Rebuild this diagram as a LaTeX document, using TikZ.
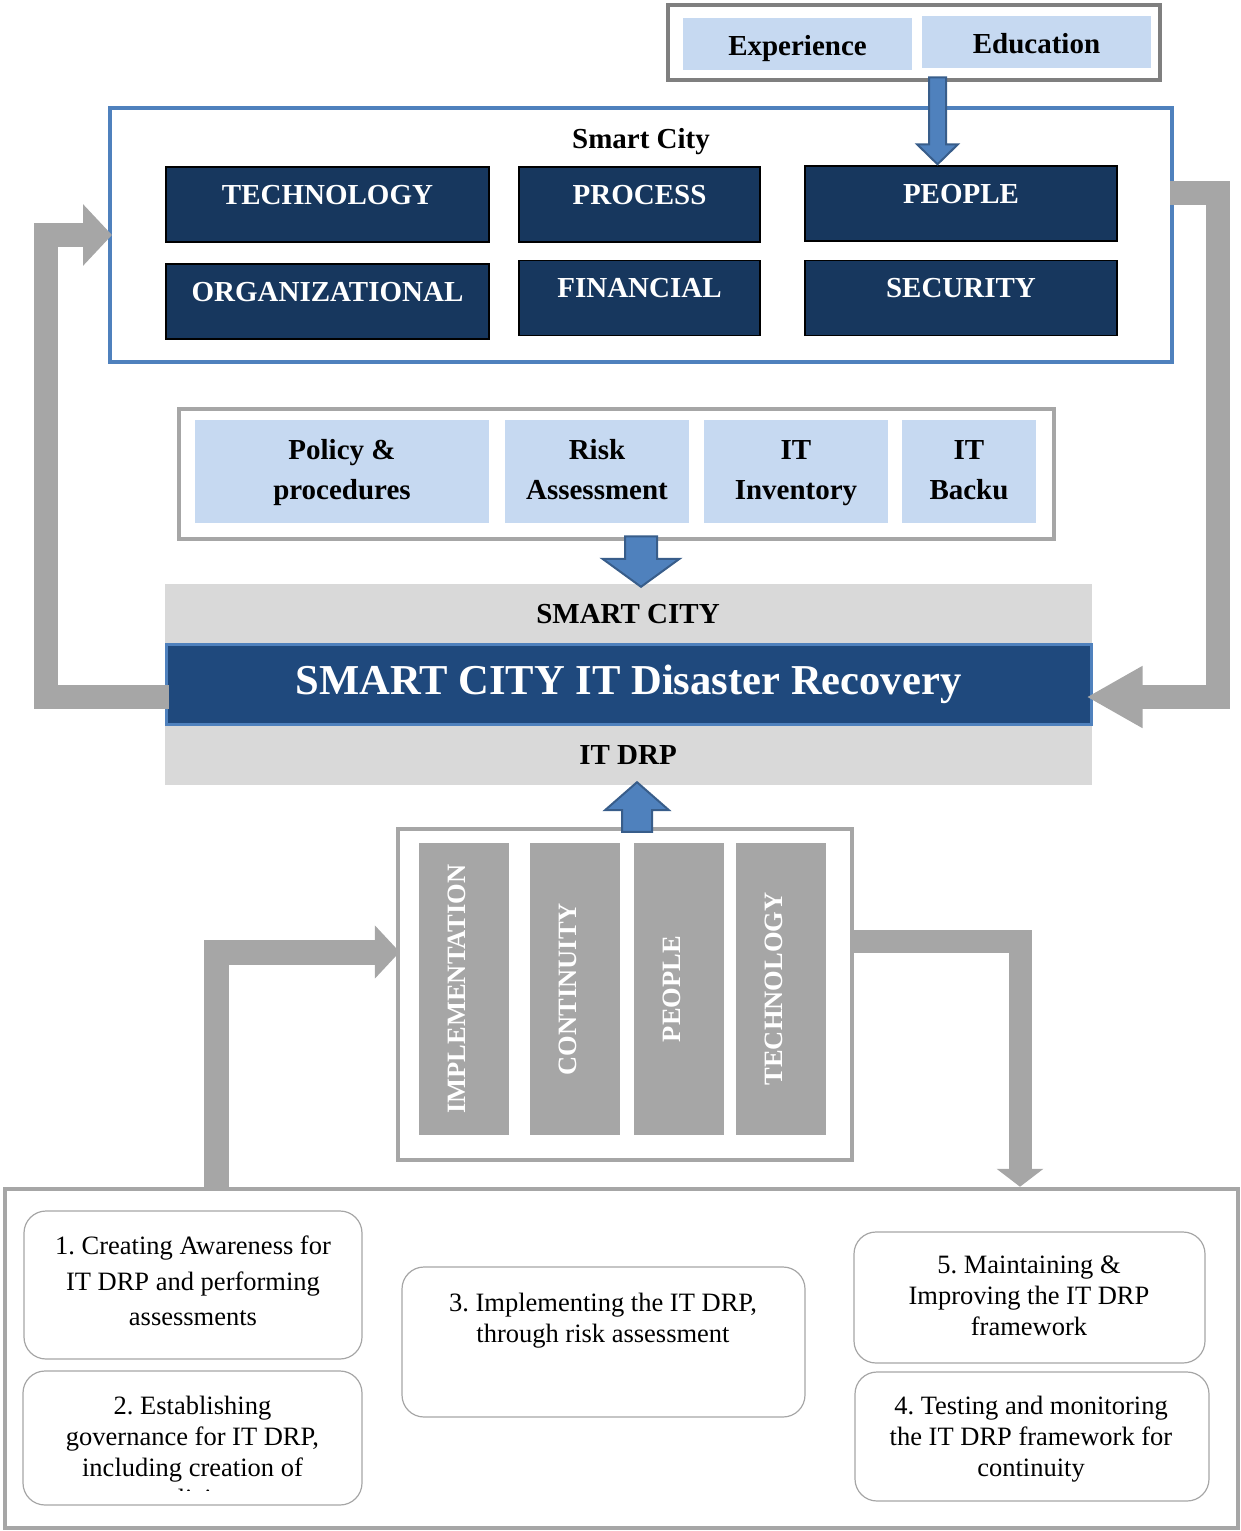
\documentclass[tikz,border=0pt]{standalone}
\usepackage{fontspec}
\setmainfont{Liberation Serif}
\usetikzlibrary{arrows.meta,calc}
\frenchspacing

\definecolor{lightblue}{HTML}{C6D9F1}
\definecolor{navy}{HTML}{17375E}
\definecolor{barblue}{HTML}{1F497D}
\definecolor{midblue}{HTML}{4F81BD}
\definecolor{edgeblue}{HTML}{385D8A}
\definecolor{arrowgray}{HTML}{A6A6A6}
\definecolor{bandgray}{HTML}{D9D9D9}
\definecolor{framegray}{HTML}{7F7F7F}

\begin{document}
\begin{tikzpicture}[x=1pt,y=-1pt,
  bfont/.style={font=\fontsize{29}{40}\selectfont\bfseries},
  rfont/.style={font=\fontsize{26.5}{31}\selectfont},
  lbox/.style={fill=lightblue, inner sep=0pt, bfont, align=center},
  dbox/.style={fill=navy, draw=black, line width=1.5pt, inner sep=0pt, text=white,
               bfont, text height=37pt, text depth=38pt},
  vbar/.style={fill=arrowgray, inner sep=0pt, rotate=90, minimum width=292pt,
               minimum height=90pt, text=white,
               font=\fontsize{26.5}{30}\selectfont\bfseries, text depth=14pt},
  rbox/.style={draw=arrowgray, line width=1.2pt, rounded corners=22pt, inner sep=0pt},
  boxframe/.style={draw=arrowgray, line width=4.5pt, inner sep=0pt},
  grayarrow/.style={draw=arrowgray, line join=miter},
  bluearrow/.style={fill=midblue, draw=edgeblue, line width=2pt, line join=miter},
]
\useasboundingbox (0,0) rectangle (1241,1531);

% ---------- competences ----------
\node[boxframe, draw=framegray, minimum width=492pt, minimum height=75pt] (topframe) at (914,42.5) {};
\node[lbox, minimum width=229pt, minimum height=52pt, text height=26pt, text depth=4pt] (exp) at (797.5,44) {Experience};
\node[lbox, minimum width=229pt, minimum height=52pt, text height=26pt, text depth=4pt] (edu) at (1036.5,42) {Education};

% ---------- smart city dimensions ----------
\node[draw=midblue, line width=4pt, minimum width=1062pt, minimum height=254pt, inner sep=0pt] (sc) at (641,235) {};
\node[bfont, anchor=base] (sctitle) at (641,148) {Smart City};

\node[dbox, minimum width=323pt] (tech)    at (327.5,204.5) {TECHNOLOGY};
\node[dbox, minimum width=241pt] (process) at (639.5,204.5) {PROCESS};
\node[dbox, minimum width=312pt] (people)  at (961,203.5)   {PEOPLE};
\node[dbox, minimum width=323pt] (org)     at (327.5,301.5) {ORGANIZATIONAL};
\node[dbox, minimum width=241pt] (fin)     at (639.5,298)   {FINANCIAL};
\node[dbox, minimum width=312pt] (sec)     at (961,298)     {SECURITY};

% ---------- plan inputs ----------
\node[boxframe, minimum width=875pt, minimum height=130pt] (midframe) at (616.5,474) {};
\node[lbox, minimum width=294pt, minimum height=103pt] (policy) at (342,471.5) {\strut Policy \&\\procedures\strut};
\node[lbox, minimum width=184pt, minimum height=103pt] (risk)   at (597,471.5) {\strut Risk\\Assessment\strut};
\node[lbox, minimum width=184pt, minimum height=103pt] (inv)    at (796,471.5) {\strut IT\\Inventory\strut};
\node[lbox, minimum width=134pt, minimum height=103pt] (backup) at (969,471.5) {\strut IT\\Backu\strut};

% ---------- central band ----------
\node[fill=bandgray, minimum width=927pt, minimum height=201pt, inner sep=0pt] (band) at (628.5,684.5) {};
\node[bfont, anchor=base] (bandtop) at (628,623) {SMART CITY};
\node[bfont, anchor=base] (bandbot) at (628,764) {IT DRP};
\node[fill=barblue, draw=midblue, line width=3pt, minimum width=925pt, minimum height=80pt,
      inner sep=0pt, text=white, font=\fontsize{42.6}{50}\selectfont\bfseries] (bar) at (628.5,684)
      {SMART CITY IT Disaster Recovery};

% ---------- pillars ----------
\node[boxframe, minimum width=454pt, minimum height=331pt] (central) at (625,994.5) {};
\node[vbar] (pimpl) at (464,989) {IMPLEMENTATION};
\node[vbar] (pcont) at (575,989) {CONTINUITY};
\node[vbar] (ppeop) at (679,989) {PEOPLE};
\node[vbar] (ptech) at (781,989) {TECHNOLOGY};

% ---------- process steps ----------
\node[boxframe, minimum width=1233pt, minimum height=339pt] (outer) at (621.5,1358.5) {};

\node[rbox, minimum width=338pt, minimum height=148pt] (b1) at (193,1285) {};
\node[font=\fontsize{26.5}{35.5}\selectfont, align=center] (t1) at (193,1281)
  {1. Creating Awareness for\\IT DRP and performing\\assessments};

\node[rbox, minimum width=339pt, minimum height=134pt] (b2) at (192.5,1438) {};
\begin{scope}
  \clip (b2.north west) rectangle (b2.east |- 0,1490);
  \node[rfont, align=center] (t2) at (192.5,1454.5)
    {2. Establishing\\governance for IT DRP,\\including creation of\\policies};
\end{scope}

\node[rbox, minimum width=403pt, minimum height=150pt] (b3) at (603.5,1342) {};
\node[rfont, align=center] (t3) at (603,1321) {3. Implementing the IT DRP,\\through risk assessment};

\node[rbox, minimum width=351pt, minimum height=131pt] (b5) at (1029.5,1297.5) {};
\node[rfont, align=center] (t5) at (1029,1296) {5. Maintaining \&\\Improving the IT DRP\\framework};

\node[rbox, minimum width=354pt, minimum height=129pt] (b4) at (1032,1436.5) {};
\node[rfont, align=center] (t4) at (1031,1439) {4. Testing and monitoring\\the IT DRP framework for\\continuity};

% ---------- feedback loops ----------
\draw[grayarrow, line width=24pt, -{Triangle[length=29pt,width=60pt]}]
  ([xshift=4pt,yshift=-13pt]bar.west) -- (45.5,697) -- (45.5,235) -- ([xshift=4pt]sc.west);
\draw[grayarrow, line width=24pt, -{Triangle[length=56pt,width=58pt]}]
  ([xshift=-4pt,yshift=42pt]sc.east) -- (1218,193) -- (1218,697) -- ([xshift=-6pt,yshift=-13pt]bar.east);
\draw[grayarrow, line width=25pt, -{Triangle[length=25pt,width=52pt]}]
  (216,0 |- outer.north) -- (216,952) -- ([xshift=4pt,yshift=42.5pt]central.west);
\draw[grayarrow, line width=23pt, -{Triangle[length=18pt,width=46pt]}]
  ([xshift=-2pt,yshift=53pt]central.east) -- (1020,941.5) -- (1020,0 |- outer.north);

% ---------- block arrows ----------
\coordinate (a1tail) at ($(937.5,0 |- topframe.south)+(0,-5)$);
\coordinate (a1tip)  at ($(937.5,0 |- people.north)+(0,-1)$);
\draw[bluearrow] let \p1=(a1tail), \p2=(a1tip) in
  (\x1-8.5pt,\y1) -- (\x1+8.5pt,\y1) -- (\x1+8.5pt,\y2+20pt) -- (\x1+20.5pt,\y2+20pt)
  -- (\p2) -- (\x1-20.5pt,\y2+20pt) -- (\x1-8.5pt,\y2+20pt) -- cycle;

\coordinate (a2tail) at ($(641,0 |- midframe.south)+(0,-5)$);
\coordinate (a2tip)  at ($(641,0 |- band.north)+(0,3)$);
\draw[bluearrow] let \p1=(a2tail), \p2=(a2tip) in
  (\x1-16pt,\y1) -- (\x1+16pt,\y1) -- (\x1+16pt,\y2+28pt) -- (\x1+38.5pt,\y2+28pt)
  -- (\p2) -- (\x1-38.5pt,\y2+28pt) -- (\x1-16pt,\y2+28pt) -- cycle;

\coordinate (a3tail) at ($(637,0 |- central.north)+(0,5)$);
\coordinate (a3tip)  at ($(637,0 |- band.south)+(0,-3)$);
\draw[bluearrow] let \p1=(a3tail), \p2=(a3tip) in
  (\x1-15pt,\y1) -- (\x1+15pt,\y1) -- (\x1+15pt,\y2-28pt) -- (\x1+32pt,\y2-28pt)
  -- (\p2) -- (\x1-32pt,\y2-28pt) -- (\x1-15pt,\y2-28pt) -- cycle;
\end{tikzpicture}
\end{document}
